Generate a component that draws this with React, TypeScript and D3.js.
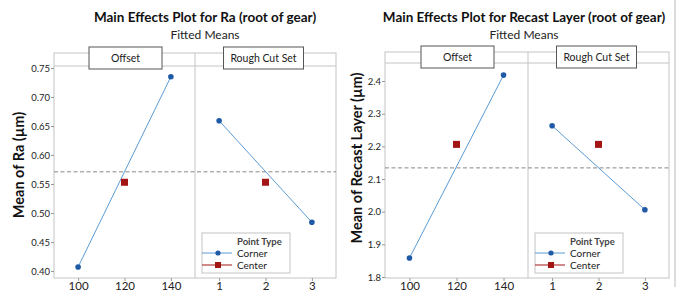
import * as d3 from 'd3';
import { useEffect, useRef } from 'react';

// factor levels
const offsetLevels = ['100', '120', '140'];
const roughLevels = ['1', '2', '3'];
const cornerOffset = ['100', '140'];
const cornerRough = ['1', '3'];
const centerOffset = '120';
const centerRough = '2';

// Ra (root of gear)
const raTicks = [0.4, 0.45, 0.5, 0.55, 0.6, 0.65, 0.7, 0.75];
const raOffsetCorner = [0.407, 0.735];
const raRoughCorner = [0.659, 0.484];
const raCenter = 0.553;
const raMean = 0.571;

// Recast layer (root of gear)
const recastTicks = [1.8, 1.9, 2.0, 2.1, 2.2, 2.3, 2.4];
const recastOffsetCorner = [1.858, 2.418];
const recastRoughCorner = [2.263, 2.006];
const recastCenter = 2.206;
const recastMean = 2.134;

const FONT = 'Lato, "Open Sans", sans-serif';
const LINE = '#5b9bd5';
const DOT = '#1f5aa6';
const SQ = '#a31515';
const GRID = '#c4c4c4';

type Cfg = {
    title: string;
    titleX: number;
    yLabel: string;
    yLabelX: number;
    yLabelY: number;
    left: number;
    mid: number;
    right: number;
    top: number;
    strip: number;
    bottom: number;
    yDomain: [number, number];
    yRange: [number, number];
    ticks: number[];
    fmt: string;
    offsetCorner: number[];
    roughCorner: number[];
    center: number;
    mean: number;
};

function drawChart(svg: d3.Selection<SVGSVGElement, unknown, null, undefined>, c: Cfg) {
    const g = svg.append('g');
    const y = d3.scaleLinear().domain(c.yDomain).range(c.yRange);
    const xOff = d3.scalePoint().domain(offsetLevels).range([c.left, c.mid]).padding(0.52);
    const xRough = d3.scalePoint().domain(roughLevels).range([c.mid, c.right]).padding(0.52);

    g.append('text')
        .attr('x', c.titleX)
        .attr('y', 22)
        .attr('text-anchor', 'middle')
        .attr('font-family', FONT)
        .attr('font-weight', 700)
        .attr('font-size', 13.5)
        .attr('fill', '#111')
        .text(c.title);
    g.append('text')
        .attr('x', c.titleX)
        .attr('y', 38.5)
        .attr('text-anchor', 'middle')
        .attr('font-family', FONT)
        .attr('font-size', 12)
        .attr('fill', '#222')
        .text('Fitted Means');

    // frame
    g.append('rect')
        .attr('x', c.left)
        .attr('y', c.top)
        .attr('width', c.right - c.left)
        .attr('height', c.bottom - c.top)
        .attr('fill', 'none')
        .attr('stroke', GRID);
    g.append('line')
        .attr('x1', c.mid).attr('x2', c.mid)
        .attr('y1', c.top).attr('y2', c.bottom)
        .attr('stroke', GRID);
    g.append('line')
        .attr('x1', c.left).attr('x2', c.right)
        .attr('y1', c.strip).attr('y2', c.strip)
        .attr('stroke', GRID);

    // strip labels
    const strips = [
        { name: 'Offset', cx: (c.left + c.mid) / 2 + 1, w: 73 },
        { name: 'Rough Cut Set', cx: (c.mid + c.right) / 2 - 2, w: 80 },
    ];
    strips.forEach((s) => {
        g.append('rect')
            .attr('x', s.cx - s.w / 2)
            .attr('y', c.top - 6)
            .attr('width', s.w)
            .attr('height', 22)
            .attr('fill', '#fff')
            .attr('stroke', '#555');
        g.append('text')
            .attr('x', s.cx)
            .attr('y', c.top + 8.5)
            .attr('text-anchor', 'middle')
            .attr('font-family', FONT)
            .attr('font-size', 10.5)
            .attr('fill', '#222')
            .text(s.name);
    });

    // axes
    const yAxis = g.append('g')
        .attr('transform', `translate(${c.left},0)`)
        .call(d3.axisLeft(y).tickValues(c.ticks).tickSize(3).tickFormat(d3.format(c.fmt)));
    const xa1 = g.append('g')
        .attr('transform', `translate(0,${c.bottom})`)
        .call(d3.axisBottom(xOff).tickSize(3));
    const xa2 = g.append('g')
        .attr('transform', `translate(0,${c.bottom})`)
        .call(d3.axisBottom(xRough).tickSize(3));
    [yAxis, xa1, xa2].forEach((a) => {
        a.select('.domain').remove();
        a.selectAll('line').attr('stroke', '#999');
        a.selectAll('text').attr('font-family', FONT).attr('fill', '#222');
    });
    yAxis.selectAll('text').attr('font-size', 9.5).attr('x', -4);
    xa1.selectAll('text').attr('font-size', 11.5).attr('y', 4);
    xa2.selectAll('text').attr('font-size', 11.5).attr('y', 4);

    g.append('text')
        .attr('transform', `translate(${c.yLabelX},${c.yLabelY}) rotate(-90)`)
        .attr('text-anchor', 'middle')
        .attr('font-family', FONT)
        .attr('font-weight', 700)
        .attr('font-size', 14.5)
        .attr('fill', '#111')
        .text(c.yLabel);

    // overall mean
    g.append('line')
        .attr('x1', c.left).attr('x2', c.right)
        .attr('y1', y(c.mean)).attr('y2', y(c.mean))
        .attr('stroke', '#888')
        .attr('stroke-dasharray', '4,2.5');

    // corner points + center points
    const panels = [
        { x: xOff, lv: cornerOffset, v: c.offsetCorner, cl: centerOffset },
        { x: xRough, lv: cornerRough, v: c.roughCorner, cl: centerRough },
    ];
    panels.forEach((p) => {
        const pts: [number, number][] = p.lv.map((l, i) => [p.x(l) as number, y(p.v[i])]);
        g.append('path')
            .attr('d', d3.line()(pts))
            .attr('fill', 'none')
            .attr('stroke', LINE)
            .attr('stroke-width', 1);
        g.selectAll(null)
            .data(pts)
            .join('circle')
            .attr('cx', (d) => d[0])
            .attr('cy', (d) => d[1])
            .attr('r', 2.8)
            .attr('fill', DOT);
        g.append('rect')
            .attr('x', (p.x(p.cl) as number) - 3.5)
            .attr('y', y(c.center) - 3.5)
            .attr('width', 7)
            .attr('height', 7)
            .attr('fill', SQ);
    });

    // legend
    const lx = c.mid + 7;
    const ly = 233;
    const lg = g.append('g').attr('transform', `translate(${lx},${ly})`);
    lg.append('rect')
        .attr('width', 88)
        .attr('height', 40)
        .attr('fill', '#fff')
        .attr('stroke', GRID);
    lg.append('text')
        .attr('x', 35)
        .attr('y', 11.5)
        .attr('font-family', FONT)
        .attr('font-size', 9.5)
        .attr('font-weight', 700)
        .attr('fill', '#444')
        .text('Point Type');
    const items = [
        { name: 'Corner', color: LINE, mark: DOT, sq: false },
        { name: 'Center', color: SQ, mark: SQ, sq: true },
    ];
    items.forEach((it, i) => {
        const yy = 20 + i * 12;
        lg.append('line')
            .attr('x1', 0).attr('x2', 30)
            .attr('y1', yy).attr('y2', yy)
            .attr('stroke', it.color);
        if (it.sq) {
            lg.append('rect').attr('x', 13).attr('y', yy - 3).attr('width', 6).attr('height', 6).attr('fill', it.mark);
        } else {
            lg.append('circle').attr('cx', 16).attr('cy', yy).attr('r', 2.6).attr('fill', it.mark);
        }
        lg.append('text')
            .attr('x', 35)
            .attr('y', yy + 3.5)
            .attr('font-family', FONT)
            .attr('font-size', 10)
            .attr('fill', '#222')
            .text(it.name);
    });
}

export default function App() {
    const ref = useRef<SVGSVGElement>(null);

    useEffect(() => {
        const svg = d3.select(ref.current as SVGSVGElement);
        svg.selectAll('*').remove();
        svg.append('rect').attr('width', 683).attr('height', 292).attr('fill', '#fff');

        drawChart(svg, {
            title: 'Main Effects Plot for Ra (root of gear)',
            titleX: 205,
            yLabel: 'Mean of Ra (µm)',
            yLabelX: 24,
            yLabelY: 165,
            left: 54,
            mid: 195,
            right: 336,
            top: 53,
            strip: 66,
            bottom: 278,
            yDomain: [0.4, 0.75],
            yRange: [271, 68],
            ticks: raTicks,
            fmt: '.2f',
            offsetCorner: raOffsetCorner,
            roughCorner: raRoughCorner,
            center: raCenter,
            mean: raMean,
        });
        drawChart(svg, {
            title: 'Main Effects Plot for Recast Layer (root of gear)',
            titleX: 524,
            yLabel: 'Mean of Recast Layer (µm)',
            yLabelX: 362,
            yLabelY: 158,
            left: 385,
            mid: 528,
            right: 669,
            top: 52,
            strip: 63,
            bottom: 278,
            yDomain: [1.8, 2.4],
            yRange: [277, 81],
            ticks: recastTicks,
            fmt: '.1f',
            offsetCorner: recastOffsetCorner,
            roughCorner: recastRoughCorner,
            center: recastCenter,
            mean: recastMean,
        });

        svg.append('line')
            .attr('x1', 675).attr('x2', 675)
            .attr('y1', 0).attr('y2', 287)
            .attr('stroke', '#bbb');
    }, []);

    return (
        <svg
            ref={ref}
            width={683}
            height={292}
            style={{ position: 'absolute', left: 0, top: 0 }}
        />
    );
}
